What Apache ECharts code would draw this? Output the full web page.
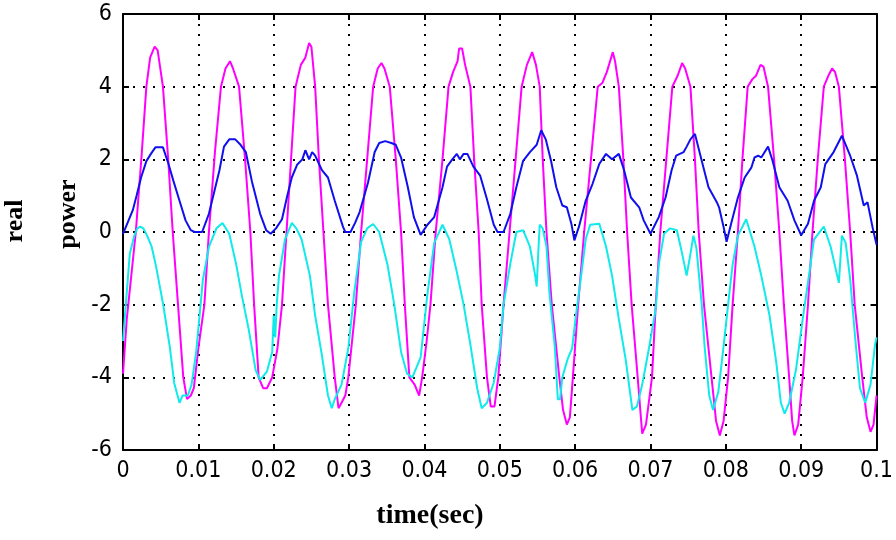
<!DOCTYPE html>
<html>
<head>
<meta charset="utf-8">
<script src="https://cdn.jsdelivr.net/npm/echarts@6/dist/echarts.min.js"></script>
<style>
  html, body { margin: 0; padding: 0; background: #fff; }
  #powerChart { width: 896px; height: 540px; }
</style>
</head>
<body>
<div id="powerChart"></div>
<script>
//坐标轴刻度
const xTicks = [0, 0.01, 0.02, 0.03, 0.04, 0.05, 0.06, 0.07, 0.08, 0.09, 0.1];
const yTicks = [-6, -4, -2, 0, 2, 4, 6];

//品红曲线 (时间, 数值)
const magentaTime = [0, 0.0005, 0.0012, 0.0017, 0.0025, 0.0031, 0.0036, 0.0042, 0.0046, 0.0053, 0.0060, 0.0066, 0.0073, 0.0080, 0.0085, 0.0090, 0.0094, 0.0100, 0.0108, 0.0114, 0.0122, 0.0130, 0.0136, 0.0142, 0.0146, 0.0154, 0.0162, 0.0169, 0.0174, 0.0180, 0.0186, 0.0191, 0.0198, 0.0205, 0.0211, 0.0217, 0.0223, 0.0229, 0.0236, 0.0242, 0.0247, 0.0250, 0.0255, 0.0260, 0.0266, 0.0272, 0.0281, 0.0286, 0.0290, 0.0295, 0.0299, 0.0309, 0.0316, 0.0324, 0.0332, 0.0338, 0.0343, 0.0347, 0.0354, 0.0362, 0.0369, 0.0374, 0.0380, 0.0387, 0.0393, 0.0397, 0.0403, 0.0408, 0.0415, 0.0424, 0.0432, 0.0438, 0.0444, 0.0446, 0.0450, 0.0454, 0.0461, 0.0466, 0.0472, 0.0476, 0.0483, 0.0488, 0.0493, 0.0498, 0.0505, 0.0513, 0.0521, 0.0529, 0.0536, 0.0543, 0.0548, 0.0553, 0.0557, 0.0562, 0.0569, 0.0579, 0.0584, 0.0589, 0.0593, 0.0597, 0.0604, 0.0612, 0.0621, 0.0630, 0.0636, 0.0642, 0.0650, 0.0653, 0.0658, 0.0664, 0.0669, 0.0675, 0.0683, 0.0689, 0.0694, 0.0702, 0.0707, 0.0713, 0.0721, 0.0729, 0.0736, 0.0742, 0.0746, 0.0753, 0.0759, 0.0764, 0.0771, 0.0781, 0.0787, 0.0792, 0.0797, 0.0803, 0.0809, 0.0816, 0.0822, 0.0829, 0.0835, 0.0840, 0.0846, 0.0850, 0.0856, 0.0864, 0.0871, 0.0877, 0.0884, 0.0888, 0.0891, 0.0896, 0.0902, 0.0909, 0.0915, 0.0922, 0.0930, 0.0936, 0.0941, 0.0945, 0.0950, 0.0958, 0.0965, 0.0971, 0.0981, 0.0987, 0.0992, 0.0996, 0.1];
const magentaValue = [-3.9, -2.4, -1.0, 0, 2.2, 4.0, 4.8, 5.1, 5.0, 4.0, 2.0, 0, -2, -4, -4.6, -4.5, -4.3, -3.2, -2, 0, 2.2, 4, 4.5, 4.7, 4.5, 4, 2, 0, -2, -4, -4.3, -4.3, -4.0, -3.2, -2, 0, 2, 4, 4.6, 4.8, 5.2, 5.1, 4, 2, 0, -2, -4, -4.85, -4.7, -4.5, -4, -2, 0, 2, 4, 4.5, 4.65, 4.5, 4, 2, 0, -2, -4, -4.2, -4.5, -4, -3, -2, 0, 2, 4, 4.4, 4.7, 5.05, 5.05, 4.6, 4, 2, 0, -2, -4, -4.8, -4.8, -4, -2, 0, 2, 4, 4.6, 4.95, 4.6, 4, 2, 0, -2, -4, -4.9, -5.3, -5.1, -4, -2, 0, 2, 4, 4.1, 4.4, 4.95, 4.7, 4, 2, 0, -2, -4, -5.55, -5.3, -4, -2, 0, 2, 4, 4.3, 4.65, 4.5, 4, 2, 0, -2, -4, -5.2, -5.6, -5.2, -4, -2, 0, 2, 4, 4.2, 4.3, 4.6, 4.55, 4, 2, 0, -2, -4, -5.2, -5.6, -5.3, -4, -2, 0, 2, 4, 4.3, 4.5, 4.4, 4, 2, 0, -2, -4, -5.1, -5.5, -5.3, -4.5];

//蓝色曲线
const blueTime = [0, 0.0007, 0.0013, 0.0018, 0.0024, 0.0031, 0.0037, 0.0043, 0.0053, 0.0060, 0.0067, 0.0075, 0.0083, 0.0090, 0.0095, 0.0105, 0.0114, 0.0121, 0.0128, 0.0134, 0.0141, 0.0149, 0.0156, 0.0163, 0.0171, 0.0182, 0.0190, 0.0196, 0.0203, 0.0211, 0.0218, 0.0224, 0.0231, 0.0238, 0.0242, 0.0247, 0.0251, 0.0255, 0.0264, 0.0272, 0.0281, 0.0292, 0.0295, 0.0302, 0.0308, 0.0314, 0.0325, 0.0334, 0.0340, 0.0348, 0.0356, 0.0362, 0.0369, 0.0378, 0.0386, 0.0395, 0.0404, 0.0413, 0.0424, 0.0430, 0.0437, 0.0443, 0.0447, 0.0452, 0.0457, 0.0465, 0.0474, 0.0483, 0.0492, 0.0497, 0.0505, 0.0514, 0.0522, 0.0531, 0.0540, 0.0549, 0.0555, 0.0561, 0.0568, 0.0575, 0.0583, 0.0589, 0.0595, 0.0599, 0.0605, 0.0614, 0.0623, 0.0632, 0.0641, 0.0649, 0.0658, 0.0665, 0.0674, 0.0685, 0.0691, 0.0700, 0.0711, 0.0720, 0.0728, 0.0734, 0.0744, 0.0748, 0.0753, 0.0759, 0.0768, 0.0777, 0.0788, 0.0791, 0.0797, 0.0801, 0.0807, 0.0816, 0.0825, 0.0834, 0.0838, 0.0843, 0.0847, 0.0856, 0.0862, 0.0871, 0.0882, 0.0891, 0.0900, 0.0909, 0.0917, 0.0926, 0.0932, 0.0943, 0.0954, 0.0965, 0.0974, 0.0983, 0.0988, 0.0995, 0.1];
const blueValue = [-0.05, 0.3, 0.6, 1.0, 1.5, 1.95, 2.15, 2.33, 2.33, 1.9, 1.4, 0.86, 0.32, 0.05, 0, 0, 0.5, 1.1, 1.7, 2.35, 2.55, 2.55, 2.4, 2.2, 1.4, 0.5, 0.05, -0.05, 0.1, 0.35, 1.0, 1.5, 1.85, 2.0, 2.25, 2.0, 2.2, 2.1, 1.7, 1.5, 0.86, 0.14, 0, 0, 0.25, 0.55, 1.35, 2.2, 2.45, 2.5, 2.45, 2.4, 2.05, 1.23, 0.41, -0.08, 0.2, 0.41, 1.23, 1.8, 2.0, 2.15, 2.0, 2.15, 2.15, 1.8, 1.55, 0.9, 0.2, 0, 0, 0.5, 1.23, 1.96, 2.2, 2.4, 2.8, 2.55, 1.96, 1.23, 0.73, 0.68, 0.23, -0.23, 0.14, 0.86, 1.32, 1.87, 2.15, 2.0, 2.15, 1.7, 0.95, 0.68, 0.32, -0.05, 0.41, 0.95, 1.7, 2.1, 2.2, 2.35, 2.55, 2.7, 1.96, 1.23, 0.82, 0.68, 0.14, -0.27, 0.23, 0.95, 1.5, 1.78, 2.05, 2.1, 2.05, 2.35, 1.96, 1.23, 0.86, 0.32, -0.09, 0.23, 0.86, 1.23, 1.87, 2.2, 2.65, 2.1, 1.55, 0.73, 0.82, 0.1, -0.35];

//青色曲线
const cyanTime = [0, 0.0003, 0.0009, 0.0015, 0.0019, 0.0023, 0.0027, 0.0032, 0.0038, 0.0044, 0.0053, 0.0062, 0.0068, 0.0075, 0.0079, 0.0086, 0.0091, 0.0097, 0.0106, 0.0114, 0.0124, 0.0132, 0.0141, 0.0150, 0.0158, 0.0167, 0.0176, 0.0182, 0.0191, 0.0198, 0.0200, 0.0202, 0.0204, 0.0207, 0.0215, 0.0224, 0.0230, 0.0237, 0.0248, 0.0255, 0.0264, 0.0272, 0.0277, 0.0281, 0.0290, 0.0299, 0.0307, 0.0316, 0.0324, 0.0332, 0.0340, 0.0351, 0.0360, 0.0369, 0.0377, 0.0384, 0.0395, 0.0404, 0.0413, 0.0424, 0.0433, 0.0443, 0.0452, 0.0461, 0.0470, 0.0476, 0.0483, 0.0492, 0.0500, 0.0505, 0.0514, 0.0522, 0.0531, 0.0540, 0.0547, 0.0549, 0.0551, 0.0553, 0.0557, 0.0562, 0.0566, 0.0573, 0.0577, 0.0580, 0.0583, 0.0590, 0.0596, 0.0601, 0.0608, 0.0614, 0.0620, 0.0632, 0.0641, 0.0649, 0.0658, 0.0667, 0.0676, 0.0682, 0.0689, 0.0698, 0.0707, 0.0711, 0.0718, 0.0726, 0.0735, 0.0741, 0.0748, 0.0753, 0.0757, 0.0761, 0.0768, 0.0772, 0.0778, 0.0783, 0.0790, 0.0797, 0.0803, 0.0809, 0.0816, 0.0827, 0.0838, 0.0847, 0.0858, 0.0867, 0.0873, 0.0878, 0.0884, 0.0893, 0.0902, 0.0911, 0.0917, 0.0930, 0.0939, 0.0950, 0.0954, 0.0959, 0.0965, 0.0972, 0.0978, 0.0985, 0.0992, 0.0998, 0.1];
const cyanValue = [-3.0, -2.2, -0.6, -0.1, 0.1, 0.15, 0.1, -0.1, -0.4, -0.96, -1.96, -3.15, -4.16, -4.7, -4.5, -4.5, -4.2, -3.33, -1.32, -0.41, 0.1, 0.25, -0.05, -0.87, -1.78, -2.7, -3.8, -4.07, -3.84, -3.3, -2.3, -2.9, -2.0, -1.2, -0.2, 0.25, 0.1, -0.2, -1.2, -2.3, -3.4, -4.5, -4.85, -4.6, -4.2, -3.2, -1.65, -0.27, 0.1, 0.22, 0, -0.9, -2.0, -3.3, -3.9, -4.0, -3.45, -1.7, -0.3, 0.2, -0.2, -1.1, -2.0, -3.1, -4.3, -4.85, -4.7, -4.15, -3.2, -2.0, -0.87, 0, 0.05, -0.4, -1.2, -1.5, -0.6, 0.2, 0.1, -0.4, -1.7, -3.15, -4.6, -4.6, -4.0, -3.5, -3.2, -2.3, -1.2, -0.2, 0.2, 0.23, -0.4, -1.2, -2.4, -3.5, -4.9, -4.8, -4.2, -3.2, -2.1, -0.9, -0.05, 0.1, 0.05, -0.5, -1.2, -0.6, -0.1, -0.45, -2.0, -3.2, -4.5, -4.9, -4.4, -3.15, -2.0, -0.9, -0.1, 0.35, -0.4, -1.2, -2.3, -3.6, -4.7, -5.0, -4.7, -3.8, -2.4, -1.1, -0.2, 0.15, -0.4, -1.4, -0.1, -0.3, -1.3, -3.0, -4.3, -4.7, -4.2, -3.1, -2.9];

//把两个数组合成 [x, y]
function toPairs(t, v) {
  let res = [];
  for (let i = 0; i < t.length; i++) {
    res.push([t[i], v[i]]);
  }
  return res;
}

const tickFont = "'Liberation Sans Narrow', 'DejaVu Sans Condensed', sans-serif";
const titleFont = "bold 28px 'Liberation Serif', 'DejaVu Serif', serif";

//虚线网格
const dotLine = {
  show: true,
  lineStyle: { color: '#000', width: 2, type: [2, 8] }
};

let powerChart = echarts.init(document.getElementById('powerChart'));
let option = {
  animation: false,
  backgroundColor: '#fff',
  grid: { left: 123, right: 13, top: 14, bottom: 90 },
  xAxis: [
    {
      type: 'value',
      min: xTicks[0],
      max: xTicks[xTicks.length - 1],
      interval: 0.01,
      axisLine: { show: true, onZero: false, lineStyle: { color: '#000', width: 2 } },
      axisTick: { show: true, inside: true, length: 6, lineStyle: { color: '#000', width: 2 } },
      axisLabel: {
        show: true,
        margin: 10,
        color: '#000',
        fontSize: 23,
        fontFamily: tickFont,
        formatter: function (v) { return String(+v.toFixed(2)); }
      },
      splitLine: dotLine
    },
    {
      type: 'value',
      position: 'top',
      min: xTicks[0],
      max: xTicks[xTicks.length - 1],
      interval: 0.01,
      axisLine: { show: true, onZero: false, lineStyle: { color: '#000', width: 2 } },
      axisTick: { show: true, inside: true, length: 6, lineStyle: { color: '#000', width: 2 } },
      axisLabel: { show: false },
      splitLine: { show: false }
    }
  ],
  yAxis: [
    {
      type: 'value',
      min: yTicks[0],
      max: yTicks[yTicks.length - 1],
      interval: 2,
      axisLine: { show: true, onZero: false, lineStyle: { color: '#000', width: 2 } },
      axisTick: { show: true, inside: true, length: 6, lineStyle: { color: '#000', width: 2 } },
      axisLabel: { show: true, margin: 11, color: '#000', fontSize: 23, fontFamily: tickFont },
      splitLine: dotLine
    },
    {
      type: 'value',
      position: 'right',
      min: yTicks[0],
      max: yTicks[yTicks.length - 1],
      interval: 2,
      axisLine: { show: true, onZero: false, lineStyle: { color: '#000', width: 2 } },
      axisTick: { show: true, inside: true, length: 6, lineStyle: { color: '#000', width: 2 } },
      axisLabel: { show: false },
      splitLine: { show: false }
    }
  ],
  graphic: [
    {
      type: 'text', x: 430, y: 516,
      style: { text: 'time(sec)', font: titleFont, fill: '#000', textAlign: 'center', textVerticalAlign: 'middle' }
    },
    {
      type: 'text', x: 15, y: 221, rotation: Math.PI / 2,
      style: { text: 'real', font: "bold 26px 'Liberation Serif', serif", fill: '#000', textAlign: 'center', textVerticalAlign: 'middle' }
    },
    {
      type: 'text', x: 68, y: 214, rotation: Math.PI / 2,
      style: { text: 'power', font: "bold 26px 'Liberation Serif', serif", fill: '#000', textAlign: 'center', textVerticalAlign: 'middle' }
    }
  ],
  series: [
    {
      name: 'magenta',
      type: 'line',
      showSymbol: false,
      data: toPairs(magentaTime, magentaValue),
      lineStyle: { color: '#ff00ff', width: 2 },
      itemStyle: { color: '#ff00ff' }
    },
    {
      name: 'blue',
      type: 'line',
      showSymbol: false,
      data: toPairs(blueTime, blueValue),
      lineStyle: { color: '#1010ee', width: 2 },
      itemStyle: { color: '#1010ee' }
    },
    {
      name: 'cyan',
      type: 'line',
      showSymbol: false,
      data: toPairs(cyanTime, cyanValue),
      lineStyle: { color: '#10eaea', width: 2 },
      itemStyle: { color: '#10eaea' }
    }
  ]
};
powerChart.setOption(option);
</script>
</body>
</html>
